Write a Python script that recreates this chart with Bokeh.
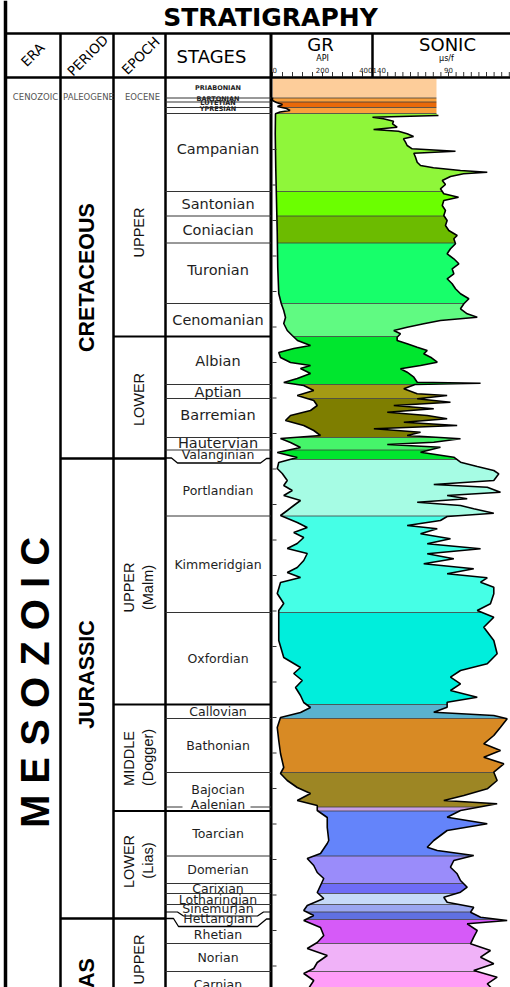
import numpy as np
from bokeh.plotting import figure
from bokeh.models import Range1d
from bokeh.embed import file_html
from bokeh.resources import INLINE
from bokeh.core.properties import value

# ---------------- data (depth in chart units, GR in API, sonic in us/ft) ----------------
stage_names = ["PRIABONIAN", "BARTONIAN", "LUTETIAN", "YPRESIAN",
               "Campanian", "Santonian", "Coniacian", "Turonian", "Cenomanian",
               "Albian", "Aptian", "Barremian", "Hautervian", "Valanginian",
               "Portlandian", "Kimmeridgian", "Oxfordian",
               "Callovian", "Bathonian", "Bajocian", "Aalenian",
               "Toarcian", "Domerian", "Carixian", "Lotharingian", "Sinemurian", "Hettangian",
               "Rhetian", "Norian", "Carnian"]
stage_top = [77, 97.5, 101.5, 107, 113, 191, 215.5, 242.5, 303, 336, 384, 398, 437, 449.5,
             459, 515.5, 612, 704, 718, 772, 806.5, 810.5, 855.5, 883, 893, 904, 911.5,
             919, 943, 971]
stage_base = stage_top[1:] + [1000]
stage_color = ["#FDCD9A", "#F9A03C", "#E8690A", "#F9A03C",
               "#8FF63A", "#6BFF00", "#6CBB00", "#17FF6A", "#60FA82",
               "#00E62E", "#A49A14", "#7E7E00", "#46F46A", "#00E62E",
               "#A6FCE4", "#45FFE6", "#00EEDC",
               "#5AB2CE", "#D88A24", "#9D8624", "#C8A0E6",
               "#6484FA", "#9A8CFA", "#6E6CF6", "#C6DAF8", "#9AA6F0", "#6070E2",
               "#D65AF8", "#F0B2F8", "#FF9CF8"]

era_names = ["CENOZOIC", "M E S O Z O I C"]
period_names = ["PALEOGENE", "CRETACEOUS", "JURASSIC", "TRIAS"]
period_bounds = [458, 918]
epoch_names = ["EOCENE", "UPPER", "LOWER", "UPPER", "MIDDLE", "LOWER", "UPPER"]
epoch_subnames = ["", "", "", "(Malm)", "(Dogger)", "(Lias)", ""]
epoch_bounds = [336, 704, 810.5]

gr_ticks = list(range(0, 401, 40))
gr_tick_labels = [0, 200, 400]
dt_ticks = list(range(140, 49, -5))
dt_tick_labels = [140, 90]

gr_depth = [77, 97, 100, 102, 104, 106, 108, 110, 111.5, 113.3, 133, 167, 200, 233, 267, 293,
            303, 310, 317, 323, 330, 335, 340, 345, 348, 352, 357, 362, 365, 368, 373, 378,
            382, 385, 390, 395, 400, 405, 410, 415, 420, 425, 430, 435, 438, 442, 447, 452,
            457, 462, 468, 473, 480, 485, 490, 495, 500, 505, 510, 515, 522, 527, 532, 537,
            543, 548, 553, 560, 567, 572, 577, 582, 588, 593, 603, 610, 623, 640, 657, 667,
            673, 680, 687, 695, 702, 707, 712, 717, 727, 740, 753, 767, 773, 780, 787, 793,
            800, 805, 810, 817, 827, 840, 843, 853, 858, 865, 872, 878, 885, 892, 898, 905,
            910, 915, 920, 927, 935, 942, 948, 955, 962, 968, 973, 980, 990]
gr_api = [0, 0, 0, 16, 40, 20, 56, 70, 30, 12, 11, 13, 16, 19, 21, 25,
          35, 45, 52, 45, 59, 79, 100, 152, 85, 25, 32, 72, 152, 112, 152, 99,
          45, 125, 165, 99, 165, 179, 152, 72, 52, 125, 165, 192, 32, 72, 112, 19,
          99, 25, 19, 39, 59, 45, 79, 45, 112, 85, 59, 32, 99, 139, 85, 125,
          99, 59, 139, 125, 99, 59, 112, 32, 25, 19, 45, 25, 25, 25, 45, 112,
          85, 119, 92, 112, 125, 152, 112, 32, 19, 25, 32, 45, 32, 59, 99, 152,
          99, 179, 179, 219, 219, 225, 219, 192, 139, 165, 179, 205, 192, 179, 205, 139,
          125, 165, 125, 192, 205, 179, 139, 219, 179, 165, 125, 165, 139]

dt_depth = [77, 113.3, 115, 116.7, 118.3, 120.7, 123.3, 126.7, 129, 130.7, 133.3, 136, 138.3,
            141.7, 145, 148.3, 150.7, 152.7, 156.7, 161.7, 165, 167.3, 170, 171.7, 173.3, 176,
            180, 184, 188.3, 193.3, 196.7, 200, 205, 210, 215, 220, 225, 230, 235, 238.3,
            243.3, 248.3, 253.3, 258.3, 263.3, 268.3, 273.3, 278.3, 283.3, 288.3, 293.3,
            298.3, 303.3, 308.3, 313.3, 316.7, 320, 323.3, 326.7, 330, 333.3, 336.7, 340,
            343.3, 346.7, 350, 353.3, 356.7, 361.7, 365, 368.3, 371.7, 376.7, 381.7, 382.7,
            384, 388.3, 393.3, 395, 398.3, 401.7, 405, 408.3, 411.7, 415, 418.3, 421.7, 425,
            428.3, 431.7, 435, 438.3, 441.7, 444, 446.7, 451.7, 456.7, 461.7, 466, 470,
            473.3, 480, 484, 486.7, 491.7, 495, 498.3, 501.7, 505, 508.3, 512.7, 516, 520,
            525, 528.3, 533.3, 538.3, 543.3, 548.3, 553.3, 558.3, 563.3, 568.3, 573.3,
            577.3, 581.7, 586.7, 593.3, 603.3, 610, 616.7, 626.7, 640, 653.3, 663.3, 670,
            676.7, 683.3, 690, 696.7, 701.7, 706.7, 711.7, 715, 718.3, 726.7, 735, 743.3,
            750, 756.7, 763.3, 771.7, 780, 788.3, 795, 800, 803.3, 810, 816.7, 823.3, 830,
            840, 846.7, 850, 855, 860, 866.7, 873.3, 880, 886.7, 891.7, 896.7, 901.7, 906.7,
            911.7, 916.7, 920, 923.3, 930, 936.7, 943.3, 950, 956.7, 963.3, 970, 976.7,
            983.3, 990]
dt_us = [97.9, 97.9, 96.6, 140, 132.8, 126.2, 126.8, 123.8, 139.3, 122.9, 117.2, 113, 119.6,
         118.3, 117.2, 113.9, 85.4, 112.8, 111.7, 110.6, 108.4, 99.9, 82.1, 64.5, 80.1, 88.7,
         94.1, 92, 95.3, 93.1, 83.4, 93.1, 94.1, 92, 93.1, 90.9, 92, 89.8, 84.3, 86.5,
         85.4, 88.7, 90.9, 86.5, 83.2, 87.6, 86.5, 90.9, 87.6, 85.4, 82.1,
         76.6, 79.9, 82.1, 77.7, 71.1, 95.3, 106.3, 117.2, 126, 121.6, 123.8, 123.8,
         117.2, 110.6, 104, 106.3, 101.8, 97.4, 108.4, 121.6, 117.2, 112.8, 110.6, 68.9,
         112, 119.4, 110.6, 90.9, 110.6, 88.7, 126, 99.7, 130.3, 104, 90.9, 119.4, 84.3,
         139.1, 108.4, 117.2, 82.1, 99.7, 130.3, 95.3, 108.4, 86.5, 82.1, 71.1, 60.2,
         56.9, 60.2, 99.7, 64.5, 55.8, 90.9, 77.7, 110.6, 82.1, 73.4, 60.2, 90.9, 95.3,
         117.2, 97.4, 108.4, 88.7, 104, 68.9, 104, 86.5, 106.3, 73.4, 90.9,
         64.5, 68.9, 60.2, 60.2, 62.4, 71.1, 60.2, 66.8, 60.2, 58, 64.5, 82.1,
         88.7, 82.1, 88.7, 71.1, 90.9, 90.9, 99.7, 60.2, 51.4, 55.8, 60.2, 66.8,
         55.8, 66.8, 53.6, 60.2, 58, 64.5, 79.9, 93.1, 58, 82.1, 90.9, 64.5, 90.9,
         99.7, 104, 97.4, 73.4, 86.5, 88.7, 84.3, 82.1, 77.7, 82.1, 93.1, 90.9, 73.4,
         75.5, 68.9, 51.4, 77.7, 71.1, 73.4, 75.5, 62.4, 68.9, 60.2, 73.4, 58,
         64.5, 60.2]

# ---------------- layout (reference pixel space) ----------------
W, H = 510, 987
X0, X1 = 0, 510
Y0, Y1 = 0, 987
C_ERA, C_PER, C_EPO, C_STG, C_TRK, C_DT = 5, 60, 113, 165, 270.5, 372
HDR_TOP, HDR_BOT = 33, 77
GR_PX, GR_SCALE = (272, 372), (0, 400)
DT_PX, DT_SCALE = (372, 448), (140, 90)
FAR_GR, FAR_DT = 5000, 0
BIG_STAGES = {"Campanian", "Santonian", "Coniacian", "Turonian", "Cenomanian",
              "Albian", "Aptian", "Barremian", "Hautervian"}
EOCENE = {"PRIABONIAN", "BARTONIAN", "LUTETIAN", "YPRESIAN"}
LABEL_DY = {"BARTONIAN": -1.5, "LUTETIAN": -1.3, "YPRESIAN": -2, "Campanian": -4,
            "Turonian": -3.5, "Barremian": -3.5, "Hautervian": -1, "Portlandian": 2.5,
            "Aalenian": -4.5, "Hettangian": 3, "Rhetian": 2.5, "Carnian": -1}


def extra_range(px, sc):
    slope = (sc[1] - sc[0]) / (px[1] - px[0])
    return Range1d(sc[0] + (X0 - px[0]) * slope, sc[0] + (X1 - px[0]) * slope)


p = figure(width=W, height=H, x_range=Range1d(X0, X1), y_range=Range1d(Y1, Y0),
           output_backend="svg", toolbar_location=None, min_border=0,
           x_axis_location=None, y_axis_location=None)
p.outline_line_color = None
p.grid.visible = False
p.extra_x_ranges = {"gr": extra_range(GR_PX, GR_SCALE), "dt": extra_range(DT_PX, DT_SCALE)}

# ---- log track: coloured stages between GR and sonic ----
mid = [(t + b) / 2 for t, b in zip(stage_top, stage_base)]
hgt = [b - t for t, b in zip(stage_top, stage_base)]
p.hbar(y=mid, height=hgt, left=0, right=FAR_GR, fill_color=stage_color, line_color=None,
       x_range_name="gr")
bnd = stage_top[1:]
p.segment(x0=[0] * len(bnd), y0=bnd, x1=[FAR_GR] * len(bnd), y1=bnd, line_color="#3c3c3c",
          line_width=0.8, x_range_name="gr")
gd = np.array(gr_depth, float)
ga = np.array(gr_api, float)
dd = np.array(dt_depth, float)
du = np.array(dt_us, float)
p.harea(x1=np.full(len(gd), -20.0), x2=ga, y=gd, fill_color="white", x_range_name="gr")
p.harea(x1=du, x2=np.full(len(dd), float(FAR_DT)), y=dd, fill_color="white", x_range_name="dt")
gsel = gd >= 97
dsel = dd >= 115
p.line(ga[gsel], gd[gsel], line_color="black", line_width=1.6, x_range_name="gr")
p.line(du[dsel], dd[dsel], line_color="black", line_width=1.6, x_range_name="dt")

# depth ticks along the track edge
dticks = np.arange(149, 987, 35.5)
p.segment(x0=[0] * len(dticks), y0=dticks, x1=[16] * len(dticks), y1=dticks,
          line_color="#333333", line_width=1, x_range_name="gr")

# ---- header scales ----
p.segment(x0=gr_ticks, y0=[71.5] * len(gr_ticks), x1=gr_ticks, y1=[76] * len(gr_ticks),
          line_color="#333333", line_width=1, x_range_name="gr")
p.segment(x0=dt_ticks, y0=[71.5] * len(dt_ticks), x1=dt_ticks, y1=[76] * len(dt_ticks),
          line_color="#333333", line_width=1, x_range_name="dt")
for v, al in zip(gr_tick_labels, ["left", "center", "right"]):
    p.text(x=[v], y=[69], text=[str(v)], x_range_name="gr", text_align=al,
           text_baseline="middle", text_font=value("DejaVu Sans"), text_font_size="7px",
           text_color="#222222")
for v, al in zip(dt_tick_labels, ["left", "center"]):
    p.text(x=[v], y=[69], text=[str(v)], x_range_name="dt", text_align=al,
           text_baseline="middle", text_font=value("DejaVu Sans"), text_font_size="7px",
           text_color="#222222")

# ---- table frame ----
p.segment(x0=[C_ERA], y0=[0], x1=[C_ERA], y1=[Y1], line_color="black", line_width=3.5)
vx = [C_PER, C_EPO, C_STG]
p.segment(x0=vx, y0=[HDR_TOP] * 3, x1=vx, y1=[Y1] * 3, line_color="black", line_width=2.5)
p.segment(x0=[C_TRK], y0=[HDR_TOP], x1=[C_TRK], y1=[Y1], line_color="black", line_width=3)
p.segment(x0=[C_DT], y0=[HDR_TOP], x1=[C_DT], y1=[HDR_BOT], line_color="black", line_width=2.5)
p.segment(x0=[C_ERA, C_ERA], y0=[HDR_TOP, HDR_BOT], x1=[X1, X1], y1=[HDR_TOP, HDR_BOT],
          line_color="black", line_width=2.5)

# stage lines in stages column
special = {459, 911.5, 919, 806.5}
sl = [b for b in stage_top[1:] if b not in special and b not in epoch_bounds]
p.segment(x0=[C_STG] * len(sl), y0=sl, x1=[C_TRK] * len(sl), y1=sl, line_color="#333333",
          line_width=1)
p.segment(x0=[C_EPO] * len(epoch_bounds), y0=epoch_bounds, x1=[C_TRK] * len(epoch_bounds),
          y1=epoch_bounds, line_color="black", line_width=2)
p.segment(x0=[C_PER] * len(period_bounds), y0=period_bounds, x1=[C_STG] * len(period_bounds),
          y1=period_bounds, line_color="black", line_width=2.5)
# unconformity (wavy) lines and the Aalenian short rules
v_b = 459
p.line([C_STG, 171, 177, 260, 266, C_TRK], [v_b - 1.5, v_b - 1.5, v_b + 3.5, v_b + 3.5, v_b - 1, v_b - 1],
       line_color="black", line_width=1.3)
s_b = 911.5
p.line([C_STG, 177, 183, 257, 263, C_TRK], [s_b, s_b, s_b + 4, s_b + 4, s_b, s_b],
       line_color="black", line_width=1.2)
h_b = 919
p.line([C_STG, 173, 178, 257, 266, C_TRK], [h_b - 1, h_b - 1, h_b + 7, h_b + 7, h_b - 0.5, h_b - 0.5],
       line_color="black", line_width=1.3)
a_b = 806.5
p.segment(x0=[C_STG, 250], y0=[a_b, a_b], x1=[182, C_TRK], y1=[a_b, a_b], line_color="#333333",
          line_width=1)

# ---- texts ----
p.text(x=[270], y=[17], text=["STRATIGRAPHY"], text_align="center", text_baseline="middle",
       text_font=value("DejaVu Sans"), text_font_style="bold", text_font_size="25px",
       text_color="black")
p.text(x=[32, 87, 140], y=[54, 55, 55], text=["ERA", "PERIOD", "EPOCH"], angle=np.pi / 4,
       text_align="center", text_baseline="middle", text_font=value("DejaVu Sans"),
       text_font_size="13.5px", text_color="black")
p.text(x=[211, 320, 447], y=[56, 44, 44], text=["STAGES", "GR", "SONIC"], text_align="center",
       text_baseline="middle", text_font=value("DejaVu Sans"), text_font_size="18px",
       text_color="black")
p.text(x=[322, 446], y=[58, 58], text=["API", "µs/f"], text_align="center",
       text_baseline="middle", text_font=value("DejaVu Sans"), text_font_size="8px",
       text_color="black")

# Cenozoic row
p.text(x=[35, 88, 142], y=[96.5] * 3, text=[era_names[0], period_names[0], epoch_names[0]],
       text_align="center", text_baseline="middle", text_font=value("DejaVu Sans"),
       text_font_size="8.5px", text_color="#555555")

# era / periods / epochs (rotated)
p.text(x=[34], y=[682], text=[era_names[1]], angle=np.pi / 2, text_align="center",
       text_baseline="middle", text_font=value("Liberation Sans"), text_font_style="bold",
       text_font_size="40px", text_color="black")
p.text(x=[86, 86, 86], y=[277, 674, 990], text=period_names[1:], angle=np.pi / 2,
       text_align="center", text_baseline="middle", text_font=value("Liberation Sans"),
       text_font_style="bold", text_font_size="21.5px", text_color="black")
p.text(x=[138, 138, 128, 128, 128, 138.5], y=[232, 399, 587, 758, 861, 959],
       text=epoch_names[1:], angle=np.pi / 2, text_align="center", text_baseline="middle",
       text_font=value("Liberation Sans"), text_font_size="14.5px", text_color="#111111")
p.text(x=[147.5, 147.5, 147.5], y=[587, 757, 860], text=[s for s in epoch_subnames if s],
       angle=np.pi / 2, text_align="center", text_baseline="middle",
       text_font=value("Liberation Sans"), text_font_size="14.5px", text_color="#111111")

# stage names
groups = {"big": ([], [], "14.5px", "normal"), "small": ([], [], "12.5px", "normal"),
          "eoc": ([], [], "6.5px", "bold")}
for n, m in zip(stage_names, mid):
    g = "eoc" if n in EOCENE else ("big" if n in BIG_STAGES else "small")
    groups[g][0].append(n)
    groups[g][1].append(min(m, 985) + LABEL_DY.get(n, 0))
for g, (names, ys, fs, st) in groups.items():
    p.text(x=[217.5] * len(names), y=ys, text=names, text_align="center", text_baseline="middle",
           text_font=value("DejaVu Sans"), text_font_size=fs, text_font_style=st,
           text_color="#1e1e1e")

open("out.html", "w").write(file_html(p, INLINE))
